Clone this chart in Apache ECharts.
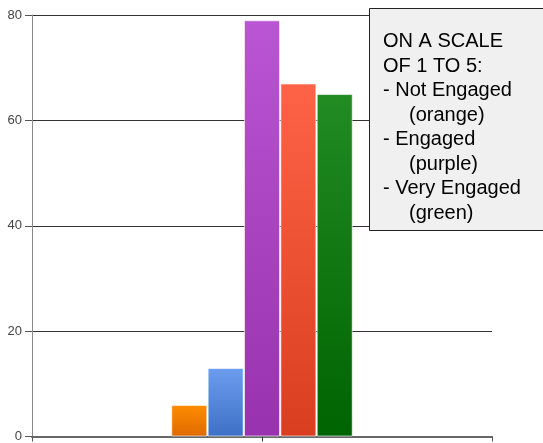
<!DOCTYPE html>
<html><head><meta charset="utf-8">
<script src="https://cdn.jsdelivr.net/npm/echarts@6/dist/echarts.min.js"></script>
<style>html,body{margin:0;padding:0;background:#fff}#c{width:543px;height:443px}</style>
</head><body><div id="c"></div>
<script>
const categories = [''];
const seriesNames = ['Not Engaged', 'Somewhat', 'Engaged', 'Quite Engaged', 'Very Engaged'];
const seriesValues = [[6], [13], [79], [67], [65]];
const yTicks = [0, 20, 40, 60, 80];
const legendLines = ['ON A SCALE', 'OF 1 TO 5:', '- Not Engaged', '(orange)', '- Engaged', '(purple)', '- Very Engaged', '(green)'];
const legendIndent = [false, false, false, true, false, true, false, true];
const colorPairs = [['#FF8C00', '#DE6A00'], ['#6C9DEE', '#3D70C6'], ['#BA55D3', '#9832AE'], ['#FF6347', '#D83E1F'], ['#228B22', '#006400']];

const chart = echarts.init(document.getElementById('c'));
const textEls = legendLines.map((t, i) => ({
  type: 'text', z: 101,
  style: {
    text: t, x: legendIndent[i] ? 40 : 14, y: 33.5 + i * 24.5,
    verticalAlign: 'middle', fill: '#000',
    font: '20px "Liberation Sans", Arial, sans-serif'
  }
}));
chart.setOption({
  animation: false,
  grid: {left: 32, right: 51, top: 15, bottom: 5, containLabel: false},
  xAxis: [{
    type: 'category', data: categories,
    axisLine: {lineStyle: {color: '#666', width: 2}},
    axisTick: {show: true, alignWithLabel: true, length: 5, lineStyle: {color: '#333'}},
    axisLabel: {show: false}
  }, {
    type: 'category', data: categories, position: 'bottom',
    axisLine: {show: false},
    axisTick: {show: true, length: 5, lineStyle: {color: '#555'}},
    axisLabel: {show: false}
  }],
  yAxis: {
    type: 'value', min: yTicks[0], max: yTicks[yTicks.length - 1], interval: 20,
    axisLine: {show: true, lineStyle: {color: '#888', width: 1}},
    axisTick: {show: true, length: 7, lineStyle: {color: '#555'}},
    axisLabel: {color: '#444', fontFamily: '"Liberation Sans Narrow", "Liberation Sans", Arial, sans-serif', fontSize: 13, margin: 10},
    splitLine: {lineStyle: {color: '#333', width: 1}}
  },
  series: seriesValues.map((v, i) => ({
    name: seriesNames[i], type: 'bar', data: v, barWidth: 36, barGap: '1%',
    itemStyle: {
      color: new echarts.graphic.LinearGradient(0, 0, 0, 1, [
        {offset: 0, color: colorPairs[i][0]}, {offset: 1, color: colorPairs[i][1]}]),
      borderColor: 'rgba(255,255,255,0.6)', borderWidth: 1
    }
  })),
  graphic: [{
    type: 'group', left: 369, top: 8, z: 100,
    children: [{
      type: 'rect', z: 100, shape: {x: 0.5, y: 0.5, width: 180, height: 222},
      style: {fill: '#F0F0F0', stroke: '#222', lineWidth: 1}
    }].concat(textEls)
  }]
});
</script></body></html>
